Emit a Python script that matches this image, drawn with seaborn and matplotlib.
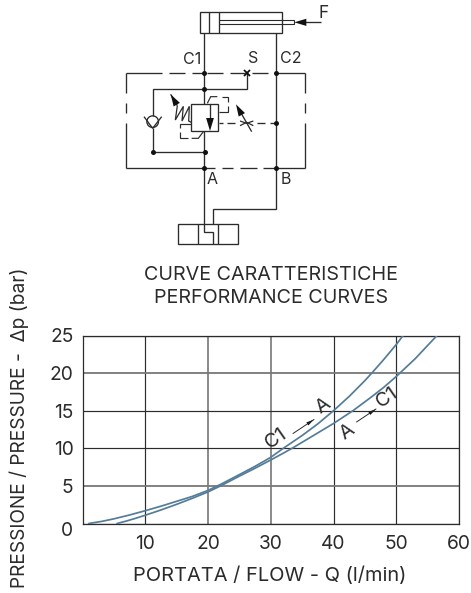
import matplotlib
matplotlib.use("Agg")
import matplotlib.pyplot as plt
from matplotlib.patches import Rectangle, Circle, Polygon
from matplotlib.transforms import ScaledTranslation
import numpy as np
import pandas as pd
import seaborn as sns

# ---- data
flow_c1_a = [1, 3, 5, 7.5, 10, 12.5, 15, 17.5, 20, 22, 25, 27.5, 30, 32, 35, 37.5, 40, 42.5, 45, 46.1, 48, 50, 51.1]
dp_c1_a = [0, 0.27, 0.62, 1.13, 1.7, 2.3, 2.95, 3.6, 4.4, 5.2, 6.5, 7.6, 8.8, 10, 11.7, 13.25, 15, 16.9, 19, 20, 21.8, 23.8, 25]
flow_a_c1 = [5.5, 7, 8.5, 10, 12.5, 15, 17.5, 20, 22, 25, 27.5, 30, 32, 33.6, 35, 37.5, 40, 43.1, 46, 48, 50, 53, 56.5]
dp_a_c1 = [0, 0.33, 0.7, 1.1, 1.8, 2.55, 3.35, 4.2, 5.0, 6.3, 7.35, 8.45, 9.35, 10.1, 10.8, 12.05, 13.3, 15, 16.8, 18.1, 19.55, 21.9, 25]
x_ticks = [10, 20, 30, 40, 50, 60]
y_ticks = [0, 5, 10, 15, 20, 25]

sns.set_theme(style="white")
plt.rcParams['font.family'] = ['Inter', 'DejaVu Sans']

W, H = 471, 593
INK = '#2b2b2b'
GREY = '#777777'
CURVE = '#557c98'
FS = 14.2
TS = 13.8

fig = plt.figure(figsize=(W / 100, H / 100), dpi=100, facecolor='white')
ax = fig.add_axes([82.5 / W, 1 - 523.5 / H, (459 - 82.5) / W, (523.5 - 335.5) / H])

df = pd.concat([
    pd.DataFrame({'Q': flow_c1_a, 'dp': dp_c1_a, 'dir': 'C1-A'}),
    pd.DataFrame({'Q': flow_a_c1, 'dp': dp_a_c1, 'dir': 'A-C1'}),
])
sns.lineplot(data=df, x='Q', y='dp', units='dir', estimator=None, sort=False,
             color=CURVE, lw=1.25, ax=ax, legend=False, zorder=3)
ax.set_xlim(0, 60)
ax.set_ylim(0, 25)
ax.set_xticks(x_ticks)
ax.set_yticks(y_ticks)
ax.grid(True, color=INK, lw=0.85)
ax.set_axisbelow(True)
for i in (1, 2):
    gl = ax.get_xgridlines()[i]
    gl.set_color(GREY)
    gl.set_linewidth(1.2)
for i in (1, 4):
    gl = ax.get_ygridlines()[i]
    gl.set_color(GREY)
    gl.set_linewidth(1.3)
for s in ax.spines.values():
    s.set_color(INK)
    s.set_linewidth(0.9)
ax.tick_params(axis='both', length=0, labelsize=TS, labelcolor=INK)
ax.tick_params(axis='x', pad=8)
ax.tick_params(axis='y', pad=6.5)
lab0 = ax.get_yticklabels()[0]
lab0.set_transform(lab0.get_transform() + ScaledTranslation(0, -6 / 100, fig.dpi_scale_trans))
ax.set_xlabel('')
ax.set_ylabel('')

# ---- overlay in pixel coordinates for the hydraulic diagram and free text
ov = fig.add_axes([0, 0, 1, 1], facecolor='none')
ov.set_xlim(0, W)
ov.set_ylim(H, 0)
ov.axis('off')


def Z(x, y):
    return 100 + x / 3, y / 3


def Y(x, y):
    return 120 + x / 3, 65 + y / 3


def line(pts, lw=0.95, f=Z):
    xs, ys = zip(*[f(*p) for p in pts])
    ov.plot(xs, ys, color=INK, lw=lw, solid_capstyle='butt', solid_joinstyle='miter')


def rect(x0, y0, x1, y1):
    a, b = Z(x0, y0)
    c, d = Z(x1, y1)
    ov.add_patch(Rectangle((a, b), c - a, d - b, fc='none', ec=INK, lw=0.95))


def head(tip, tail, size=9, f=Z):
    t = np.array(f(*tip), float)
    u = np.array(f(*tail), float) - t
    u /= np.hypot(*u)
    n = np.array([-u[1], u[0]])
    ov.add_patch(Polygon([t, t + u * size + n * size * 0.3, t + u * size - n * size * 0.3],
                         fc='#111111', ec='none', zorder=5))


# cylinder
rect(300, 37, 547, 98)
line([(328, 37), (328, 98)])
line([(357, 37), (357, 98)])
line([(357, 60), (583, 60), (583, 73), (357, 73)], lw=0.8)
line([(600, 67), (663, 67)])
head((583, 67), (663, 67), 12)

# main lines
line([(313, 98), (313, 697), (340, 697), (340, 733)])
line([(528, 98), (528, 627), (340, 627), (340, 673)])

# bottom directional valve
rect(235, 673, 415, 733)
line([(295, 673), (295, 733)])
line([(355, 673), (355, 733)])

# manifold outline, broken by hand as in the drawing
for a, b in [(18, 125), (148, 195), (215, 250), (262, 310), (330, 375), (395, 445), (468, 555)]:
    line([(a, 23), (b, 23)], f=Y)
for a, b in [(23, 85), (113, 145), (175, 308)]:
    line([(18, a), (18, b)], f=Y)
    line([(555, a), (555, b)], f=Y)
for a, b in [(18, 285), (305, 340), (360, 410), (430, 555)]:
    line([(a, 308), (b, 308)], f=Y)

# check valve branch
line([(381, 23), (381, 73), (98, 73), (98, 152)], f=Y)
line([(98, 190), (98, 260), (254, 260)], f=Y)
line([(72, 155), (98, 190), (125, 155)], f=Y)
cx, cy = Y(98, 170)
ov.add_patch(Circle((cx, cy), 5.8, fc='none', ec=INK, lw=0.95))

# counterbalance valve
a, b = Y(214, 118)
c, d = Y(295, 198)
ov.add_patch(Rectangle((a, b), c - a, d - b, fc='white', ec=INK, lw=0.95, zorder=4))
ov.plot(*zip(Y(270, 118), Y(270, 165)), color=INK, lw=0.95, zorder=5)
head((270, 198), (270, 118), 13, f=Y)
line([(172, 122), (166, 165), (190, 124), (186, 168), (208, 124), (206, 168), (214, 172)], lw=0.9, f=Y)
line([(152, 88), (172, 122)], f=Y)
head((152, 88), (175, 127), 12, f=Y)
for seg in [[(262, 115), (272, 95), (292, 95)], [(305, 95), (325, 95), (325, 112)],
            [(325, 122), (325, 140), (297, 140)]]:
    line(seg, lw=0.85, f=Y)
for seg in [[(214, 176), (181, 176), (181, 190)], [(181, 200), (181, 220), (205, 220)],
            [(215, 220), (235, 220), (250, 200)]]:
    line(seg, lw=0.85, f=Y)
for a, b in [(297, 310), (322, 345), (412, 435), (450, 468)]:
    line([(a, 173), (b, 173)], f=Y)

# adjustable restrictor
line([(395, 200), (362, 142)], f=Y)
head((348, 118), (378, 172), 12, f=Y)
line([(360, 168), (380, 175), (400, 168)], lw=0.9, f=Y)
line([(360, 182), (380, 172), (400, 182)], lw=0.9, f=Y)

# junction dots
for p in [(253, 23), (468, 23), (253, 73), (468, 173), (254, 260),
          (98, 260), (253, 308), (468, 308)]:
    x, y = Y(*p)
    ov.plot([x], [y], 'o', color='#111111', ms=3.6, mew=0, zorder=6)
x, y = Y(381, 23)
ov.plot([x], [y], marker='x', color='#111111', ms=5, mew=1.3, zorder=6)

# diagram labels
DS = 11.5
for s, p in {'F': (672, 42), 'C1': (276, 178), 'S': (460, 176), 'C2': (571, 176),
             'A': (335, 540), 'B': (558, 540)}.items():
    x, y = Z(*p)
    ov.text(x, y, s, fontsize=DS if s != 'F' else 12.5, color=INK, ha='center', va='center')

# titles
ov.text(271, 274.5, 'CURVE CARATTERISTICHE', fontsize=FS, color=INK, ha='center', va='center')
ov.text(271, 298, 'PERFORMANCE CURVES', fontsize=FS, color=INK, ha='center', va='center')
ov.text(269.5, 576, 'PORTATA / FLOW - Q (l/min)', fontsize=FS + 0.2, color=INK, ha='center', va='center')
ov.text(19, 267, 'PRESSIONE / PRESSURE -  Δp (bar)', fontsize=13.8, color=INK, rotation=90,
        ha='center', va='top')

# curve annotations
for s, (x, y) in {'C1': (276.5, 438), 'A': (323, 405.5), 'A ': (347, 431.5), 'C1 ': (387.5, 397)}.items():
    ov.text(x, y, s.strip(), fontsize=FS, color=INK, rotation=35, ha='center', va='center',
            rotation_mode='anchor', zorder=7)
for (x0, y0, x1, y1) in [(293, 433.5, 314, 419.5), (356.5, 422, 376, 409)]:
    ov.plot([x0, x1], [y0, y1], color=INK, lw=0.7)
    u = np.array([x1 - x0, y1 - y0], float)
    u /= np.hypot(*u)
    n = np.array([-u[1], u[0]])
    t = np.array([x1, y1])
    ov.add_patch(Polygon([t, t - u * 8 + n * 1.8, t - u * 8 - n * 1.8], fc='#111111', ec='none'))

fig.savefig('out.png', dpi=100, facecolor='white')
